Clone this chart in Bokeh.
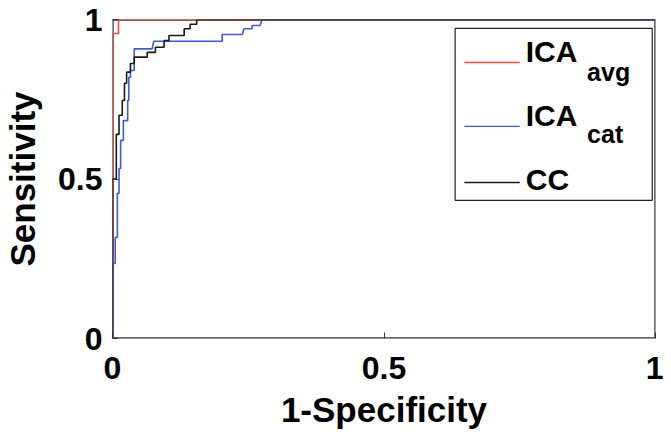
from bokeh.plotting import figure
from bokeh.models import Range1d, FixedTicker, BoxAnnotation
from bokeh.core.properties import value
from bokeh.embed import file_html
from bokeh.resources import INLINE

# ROC curves (1-specificity, sensitivity)
fpr_avg = [0, 0, 0.011, 0.011, 1]
tpr_avg = [0, 0.956, 0.956, 1, 1]

fpr_cat = [0, 0, 0.001, 0.001, 0.005, 0.005, 0.009, 0.009, 0.012, 0.012, 0.015, 0.015,
           0.020, 0.020, 0.028, 0.028, 0.030, 0.030, 0.033, 0.033, 0.040, 0.040, 0.073,
           0.076, 0.202, 0.202, 0.239, 0.242, 0.257, 0.257, 0.272, 0.275, 1]
tpr_cat = [0, 0.18, 0.18, 0.235, 0.235, 0.317, 0.317, 0.455, 0.455, 0.533, 0.533, 0.621,
           0.621, 0.683, 0.683, 0.746, 0.746, 0.819, 0.819, 0.840, 0.840, 0.908, 0.908,
           0.932, 0.932, 0.953, 0.953, 0.971, 0.971, 0.981, 0.981, 1, 1]

fpr_cc = [0, 0, 0.007, 0.007, 0.012, 0.012, 0.018, 0.018, 0.022, 0.022, 0.026, 0.026,
          0.033, 0.033, 0.040, 0.040, 0.064, 0.064, 0.079, 0.079, 0.095, 0.095, 0.104,
          0.104, 0.132, 0.132, 0.143, 0.143, 0.155, 0.155, 1]
tpr_cc = [0, 0.50, 0.50, 0.64, 0.64, 0.70, 0.70, 0.746, 0.746, 0.80, 0.80, 0.835,
          0.835, 0.862, 0.862, 0.882, 0.882, 0.897, 0.897, 0.913, 0.913, 0.934, 0.934,
          0.950, 0.950, 0.971, 0.971, 0.985, 0.985, 1, 1]

series_names = ["ICA", "ICA", "CC"]
series_subs = ["avg", "cat", ""]
series_colors = ["#EE4A38", "#3A5AE8", "#1A1A1A"]
ticks = [0, 0.5, 1]

FONT = "Liberation Sans"

p = figure(width=663, height=432, output_backend="svg", toolbar_location=None,
           x_range=Range1d(0, 1), y_range=Range1d(0, 1),
           min_border_left=110, min_border_right=8, min_border_top=19, min_border_bottom=94,
           x_axis_label="1-Specificity", y_axis_label="Sensitivity")
p.grid.visible = False
p.outline_line_color = None
p.background_fill_color = "white"
p.border_fill_color = "white"

for ax in (p.xaxis[0], p.yaxis[0]):
    ax.ticker = FixedTicker(ticks=ticks)
    ax.major_label_overrides = {0: "0", 0.5: "0.5", 1: "1"}
    ax.minor_tick_line_color = None
    ax.major_tick_in = 6
    ax.major_tick_out = 0
    ax.axis_line_color = None
    ax.major_tick_line_color = "#333333"
    ax.major_label_text_font = FONT
    ax.major_label_text_font_style = "bold"
    ax.major_label_text_font_size = "32px"
    ax.major_label_text_color = "black"
    ax.axis_label_text_font = FONT
    ax.axis_label_text_font_style = "bold"
    ax.axis_label_text_color = "black"

p.xaxis.axis_label_text_font_size = "35px"
p.yaxis.axis_label_text_font_size = "35px"
p.xaxis.major_label_standoff = 18
p.xaxis.axis_label_standoff = 8
p.yaxis.major_label_standoff = 10
p.yaxis.axis_label_standoff = 13

# axes box, drawn below the curves
p.add_layout(BoxAnnotation(left=0, right=1, bottom=0, top=1, level="underlay",
                           fill_alpha=0, line_color="#333333", line_alpha=1.0,
                           line_width=2.4))

p.line(fpr_avg, tpr_avg, line_color=series_colors[0], line_width=1.6)
p.line(fpr_cat, tpr_cat, line_color=series_colors[1], line_width=1.6)
p.line(fpr_cc, tpr_cc, line_color=series_colors[2], line_width=1.6)

# Legend box (drawn manually to allow subscripts)
p.add_layout(BoxAnnotation(left=0.631, right=0.994, bottom=0.433, top=0.972,
                           level="underlay", fill_color="white", fill_alpha=1.0,
                           line_color="#222222", line_alpha=1.0, line_width=1.2))

row_y = [0.865, 0.665, 0.489]
base_y = [0.901, 0.699, 0.497]
sub_y = [0.836, 0.640, 0.0]
for i in range(3):
    p.line([0.648, 0.750], [row_y[i], row_y[i]], line_color=series_colors[i], line_width=1.4)
    p.text([0.761], [base_y[i]], text=[series_names[i]], text_font=value(FONT),
           text_font_style="bold", text_font_size="30px", text_color="black",
           text_baseline="alphabetic", text_align="left")
    if series_subs[i]:
        p.text([0.874], [sub_y[i]], text=[series_subs[i]], text_font=value(FONT),
               text_font_style="bold", text_font_size="25px", text_color="black",
               text_baseline="alphabetic", text_align="left")

open("out.html", "w").write(file_html(p, INLINE))
